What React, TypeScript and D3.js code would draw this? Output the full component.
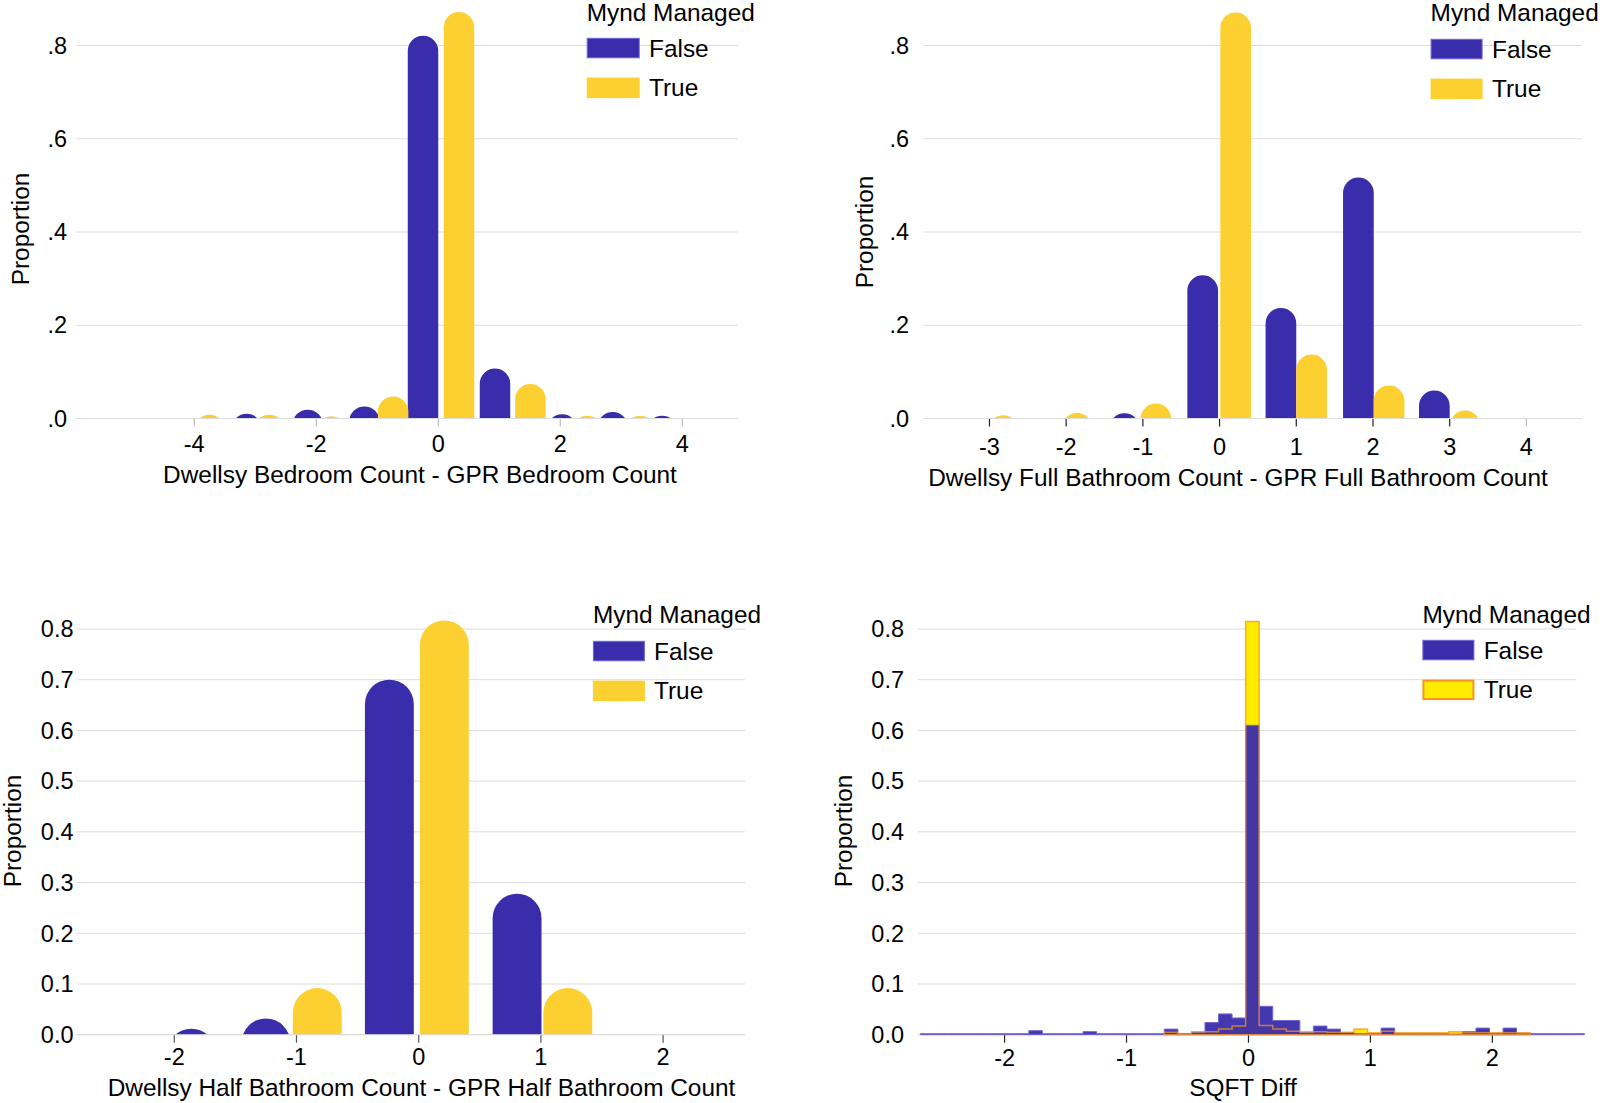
import React from 'react';
import * as d3 from 'd3';

// ---------------- DATA ----------------
// Panel 1: Bedroom count difference
const bedFalseX = [-3.14, -2.14, -1.21, -0.25, 0.93, 2.03, 2.86, 3.67];
const bedFalseY = [0.010, 0.019, 0.026, 0.821, 0.107, 0.009, 0.014, 0.006];
const bedTrueX = [-3.75, -2.77, -1.75, -0.74, 0.34, 1.51, 2.44, 3.31];
const bedTrueY = [0.008, 0.008, 0.005, 0.047, 0.872, 0.074, 0.006, 0.006];
const bedXTicks = [-4, -2, 0, 2, 4];

// Panel 2: Full bathroom count difference
const fullFalseX = [-1.24, -0.22, 0.80, 1.81, 2.80];
const fullFalseY = [0.011, 0.307, 0.237, 0.517, 0.060];
const fullTrueX = [-2.82, -1.86, -0.83, 0.21, 1.20, 2.21, 3.20];
const fullTrueY = [0.007, 0.012, 0.032, 0.871, 0.137, 0.071, 0.017];
const fullXTicks = [-3, -2, -1, 0, 1, 2, 3, 4];

// Panel 3: Half bathroom count difference
const halfFalseX = [-1.86, -1.25, -0.24, 0.805];
const halfFalseY = [0.012, 0.032, 0.700, 0.278];
const halfTrueX = [-0.83, 0.21, 1.22];
const halfTrueY = [0.092, 0.817, 0.092];
const halfXTicks = [-2, -1, 0, 1, 2];

// Panel 4: SQFT diff histogram (bins of width 1/9)
const sqftBinStart = -2.69;
const sqftBinWidth = 1 / 9;
const sqftFalse = [
  0.002, 0.002, 0.002, 0.002, 0.002, 0.002, 0.002, 0.002,
  0.008, 0.002, 0.002, 0.002, 0.006, 0.002, 0.002, 0.002, 0.002, 0.002,
  0.011, 0.002, 0.005, 0.024, 0.041, 0.033, 0.610, 0.056, 0.028, 0.028,
  0.004, 0.017, 0.011, 0.004, 0.002, 0.002, 0.013, 0.002, 0.002, 0.002,
  0.002, 0.001, 0.006, 0.013, 0.003, 0.013, 0.003,
  0.002, 0.002, 0.002, 0.002,
];
const sqftTrueFirstBin = 18;
const sqftTrue = [
  0.005, 0.001, 0.006, 0.006, 0.011, 0.017, 0.815, 0.018, 0.011, 0.007,
  0.006, 0.006, 0.005, 0.005, 0.011, 0.004, 0.007, 0.004, 0.004, 0.004,
  0.004, 0.006, 0.004, 0.004, 0.004, 0.004, 0.004,
];
const sqftXTicks = [-2, -1, 0, 1, 2];

const shortYTicks = [0, 0.2, 0.4, 0.6, 0.8];
const longYTicks = [0, 0.1, 0.2, 0.3, 0.4, 0.5, 0.6, 0.7, 0.8];

const legendTitle = 'Mynd Managed';
const legendLabels = ['False', 'True'];

// ---------------- STYLE ----------------
const BLUE = '#3a2dac';
const BLUE_EDGE = '#6f66d2';
const GOLD = '#fdd032';
const YELLOW = '#ffeb00';
const ORANGE = '#f7931e';
const GRID = '#dcdcdc';
const FONT = "'Liberation Sans', Arial, Helvetica, sans-serif";
const TICK_FS = 23.5;
const TITLE_FS = 24.4;

const fmtShort = (v: number) => d3.format('.1f')(v).replace(/^0/, '');
const fmtLong = d3.format('.1f');

function capBar(x0: number, x1: number, yTop: number, yBase: number) {
  const r = (x1 - x0) / 2;
  const yc = yTop + r;
  const yb = yBase + 2;
  return `M${x0},${yb}L${x0},${yc}A${r},${r} 0 0 1 ${x1},${yc}L${x1},${yb}Z`;
}

type BarPanel = {
  id: string;
  xDomain: [number, number];
  xRange: [number, number];
  yDomain: [number, number];
  yRange: [number, number];
  xTicks: number[];
  yTicks: number[];
  yFmt: (v: number) => string;
  barW: number;
  falseX: number[];
  falseY: number[];
  trueX: number[];
  trueY: number[];
  yLabelX: number;
  yLabelY: number;
  yTickEnd: number;
  xTickLabelY: number;
  xTitle: string;
  xTitleX: number;
  xTitleY: number;
  tickColor: (v: number) => string;
  legend: { x: number; titleY: number; sw: number; swH: number; y0: number; y1: number; textX: number };
};

function Legend({ l, trueFill, trueStroke }: { l: BarPanel['legend']; trueFill: string; trueStroke?: string }) {
  return (
    <g fontFamily={FONT} fill="#000">
      <text x={l.x} y={l.titleY} dy="0.35em" fontSize={TITLE_FS}>{legendTitle}</text>
      <rect x={l.x + 0.5} y={l.y0 + 0.5} width={l.sw - 1} height={l.swH - 1} fill={BLUE} stroke={BLUE_EDGE} strokeWidth={1} />
      <text x={l.textX} y={l.y0 + l.swH / 2} dy="0.35em" fontSize={TITLE_FS}>{legendLabels[0]}</text>
      <rect x={l.x + (trueStroke ? 1 : 0)} y={l.y1 + (trueStroke ? 1 : 0)} width={l.sw - (trueStroke ? 2 : 0)} height={l.swH - (trueStroke ? 2 : 0)} fill={trueFill} stroke={trueStroke || 'none'} strokeWidth={2} />
      <text x={l.textX} y={l.y1 + l.swH / 2} dy="0.35em" fontSize={TITLE_FS}>{legendLabels[1]}</text>
    </g>
  );
}

function Frame({ p, x, y }: { p: BarPanel; x: d3.ScaleLinear<number, number>; y: d3.ScaleLinear<number, number> }) {
  const base = y(0);
  return (
    <g fontFamily={FONT}>
      {p.yTicks.map((t) => (
        <g key={'g' + t}>
          <line x1={p.xRange[0]} x2={p.xRange[1]} y1={y(t)} y2={y(t)} stroke={GRID} strokeWidth={1} />
          <text x={p.yTickEnd} y={y(t)} dy="0.35em" textAnchor="end" fontSize={TICK_FS} fill="#000">{p.yFmt(t)}</text>
        </g>
      ))}
      {p.xTicks.map((t) => (
        <g key={'x' + t}>
          <line x1={x(t)} x2={x(t)} y1={base} y2={base + 8} stroke={p.tickColor(t)} strokeWidth={1.2} />
          <text x={x(t)} y={p.xTickLabelY} dy="0.35em" textAnchor="middle" fontSize={TICK_FS} fill="#000">{String(t)}</text>
        </g>
      ))}
      <text x={p.xTitleX} y={p.xTitleY} dy="0.35em" textAnchor="middle" fontSize={TITLE_FS} fill="#000">{p.xTitle}</text>
      <text transform={`translate(${p.yLabelX},${p.yLabelY}) rotate(-90)`} dy="0.35em" textAnchor="middle" fontSize={TITLE_FS} fill="#000">Proportion</text>
    </g>
  );
}

function BarChart({ p }: { p: BarPanel }) {
  const x = d3.scaleLinear().domain(p.xDomain).range(p.xRange);
  const y = d3.scaleLinear().domain(p.yDomain).range(p.yRange);
  const base = y(0);
  const hw = p.barW / 2;
  return (
    <g>
      <defs>
        <clipPath id={'clip-' + p.id}>
          <rect x={0} y={0} width={1600} height={base} />
        </clipPath>
      </defs>
      <Frame p={p} x={x} y={y} />
      <g clipPath={`url(#clip-${p.id})`}>
        {p.falseX.map((v, i) => (
          <path key={'f' + i} d={capBar(x(v - hw), x(v + hw), y(p.falseY[i]), base)} fill={BLUE} />
        ))}
        {p.trueX.map((v, i) => (
          <path key={'t' + i} d={capBar(x(v - hw), x(v + hw), y(p.trueY[i]), base)} fill={GOLD} />
        ))}
      </g>
      <line x1={p.xRange[0]} x2={p.xRange[1]} y1={base} y2={base} stroke={GRID} strokeWidth={1} />
      <Legend l={p.legend} trueFill={GOLD} />
    </g>
  );
}

const panels: BarPanel[] = [
  {
    id: 'bed',
    xDomain: [-5.93, 4.91], xRange: [76.5, 737.8],
    yDomain: [0, 0.8], yRange: [418.5, 45.5],
    xTicks: bedXTicks, yTicks: shortYTicks, yFmt: fmtShort, barW: 0.5,
    falseX: bedFalseX, falseY: bedFalseY, trueX: bedTrueX, trueY: bedTrueY,
    yLabelX: 20, yLabelY: 229, yTickEnd: 67, xTickLabelY: 444,
    xTitle: 'Dwellsy Bedroom Count - GPR Bedroom Count', xTitleX: 420, xTitleY: 474,
    tickColor: () => '#bdbdbd',
    legend: { x: 586.7, titleY: 12.5, sw: 53, swH: 20.5, y0: 37.8, y1: 77.6, textX: 649 },
  },
  {
    id: 'full',
    xDomain: [-3.86, 4.72], xRange: [923.5, 1581.6],
    yDomain: [0, 0.8], yRange: [418.5, 45.5],
    xTicks: fullXTicks, yTicks: shortYTicks, yFmt: fmtShort, barW: 0.4,
    falseX: fullFalseX, falseY: fullFalseY, trueX: fullTrueX, trueY: fullTrueY,
    yLabelX: 864, yLabelY: 232, yTickEnd: 909, xTickLabelY: 447,
    xTitle: 'Dwellsy Full Bathroom Count - GPR Full Bathroom Count', xTitleX: 1238, xTitleY: 477,
    tickColor: (v) => (v === 4 ? '#bdbdbd' : '#222'),
    legend: { x: 1430.6, titleY: 12.5, sw: 52, swH: 20.5, y0: 38.8, y1: 78.6, textX: 1492 },
  },
  {
    id: 'half',
    xDomain: [-2.8, 2.67], xRange: [76.5, 745],
    yDomain: [0, 0.8], yRange: [1034.7, 629],
    xTicks: halfXTicks, yTicks: longYTicks, yFmt: fmtLong, barW: 0.4,
    falseX: halfFalseX, falseY: halfFalseY, trueX: halfTrueX, trueY: halfTrueY,
    yLabelX: 12.5, yLabelY: 831, yTickEnd: 73.5, xTickLabelY: 1057,
    xTitle: 'Dwellsy Half Bathroom Count - GPR Half Bathroom Count', xTitleX: 421.5, xTitleY: 1087,
    tickColor: () => '#555',
    legend: { x: 592.9, titleY: 614.3, sw: 52, swH: 20.5, y0: 640.8, y1: 680.6, textX: 654 },
  },
];

const sqftPanel: BarPanel = {
  id: 'sqft',
  xDomain: [-2.71, 2.69], xRange: [918, 1576.5],
  yDomain: [0, 0.8], yRange: [1034.7, 629],
  xTicks: sqftXTicks, yTicks: longYTicks, yFmt: fmtLong, barW: 0,
  falseX: [], falseY: [], trueX: [], trueY: [],
  yLabelX: 843, yLabelY: 831, yTickEnd: 904, xTickLabelY: 1058,
  xTitle: 'SQFT Diff', xTitleX: 1243, xTitleY: 1087,
  tickColor: () => '#222',
  legend: { x: 1422.4, titleY: 614.3, sw: 52, swH: 20.5, y0: 639.8, y1: 679.6, textX: 1483.7 },
};

function stepPath(values: number[], firstBin: number, x: d3.ScaleLinear<number, number>, y: d3.ScaleLinear<number, number>) {
  const edge = (k: number) => x(sqftBinStart + k * sqftBinWidth);
  const base = y(0);
  let d = `M${edge(firstBin)},${base}`;
  values.forEach((v, i) => {
    const k = firstBin + i;
    d += `L${edge(k)},${y(v)}L${edge(k + 1)},${y(v)}`;
  });
  d += `L${edge(firstBin + values.length)},${base}Z`;
  return d;
}

function SqftChart() {
  const p = sqftPanel;
  const x = d3.scaleLinear().domain(p.xDomain).range(p.xRange);
  const y = d3.scaleLinear().domain(p.yDomain).range(p.yRange);
  const base = y(0);
  const trueD = stepPath(sqftTrue, sqftTrueFirstBin, x, y);
  const falseD = stepPath(sqftFalse, 0, x, y);
  return (
    <g>
      <Frame p={p} x={x} y={y} />
      <line x1={p.xRange[0]} x2={p.xRange[1]} y1={base} y2={base} stroke={GRID} strokeWidth={1} />
      <path d={trueD} fill={YELLOW} stroke="none" />
      <path d={falseD} fill={BLUE} fillOpacity={0.95} stroke={BLUE_EDGE} strokeWidth={1} strokeLinejoin="miter" />
      <path d={trueD} fill="none" stroke={ORANGE} strokeOpacity={0.75} strokeWidth={1.5} />
      <Legend l={p.legend} trueFill={YELLOW} trueStroke={ORANGE} />
    </g>
  );
}

export default function App() {
  return (
    <svg
      width={1600}
      height={1103}
      viewBox="0 0 1600 1103"
      style={{ position: 'absolute', left: 0, top: 0, background: '#fff' }}
    >
      <rect x={0} y={0} width={1600} height={1103} fill="#fff" />
      {panels.map((p) => (
        <BarChart key={p.id} p={p} />
      ))}
      <SqftChart />
    </svg>
  );
}
